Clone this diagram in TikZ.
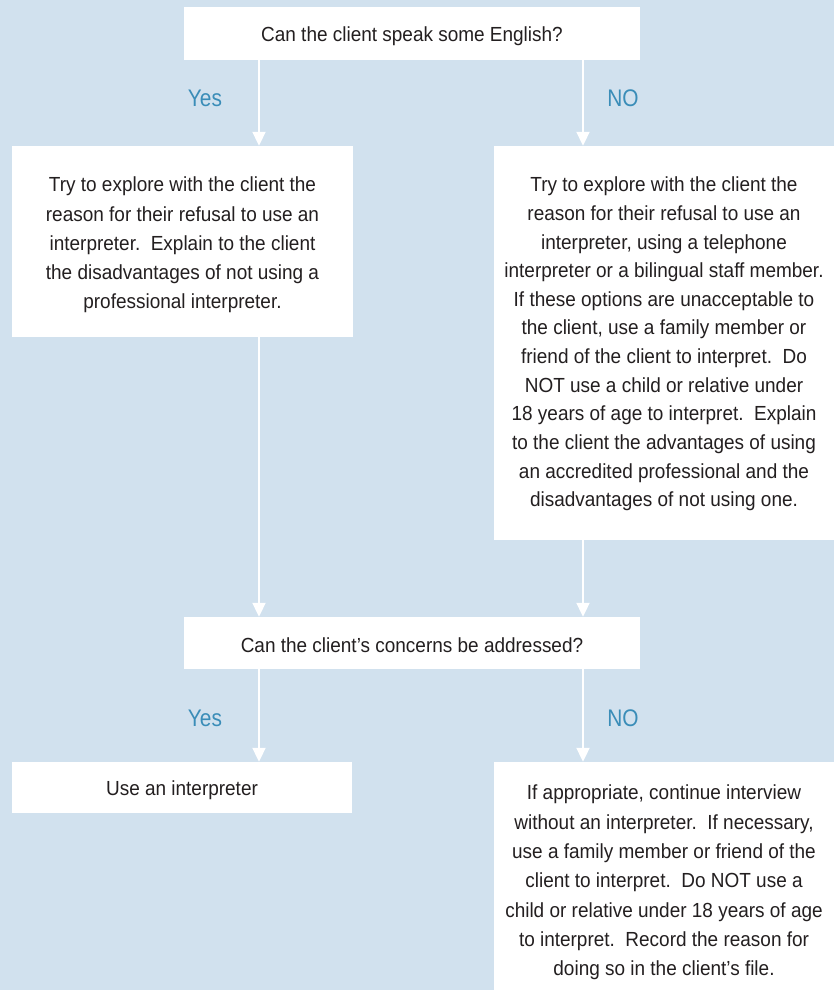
\documentclass[tikz,border=0pt]{standalone}
\usepackage{fontspec}
\setmainfont[FakeStretch=0.93]{Liberation Sans}
\newfontfamily\lblfont[FakeStretch=0.87]{Liberation Sans}
\usetikzlibrary{arrows.meta}
\definecolor{bgblue}{HTML}{D1E1EE}
\definecolor{lblblue}{HTML}{3A8DB8}
\definecolor{txt}{HTML}{231F20}
\begin{document}
\begin{tikzpicture}[x=1pt,y=-1pt,
  box/.style={fill=white, draw=none, inner sep=0pt},
  txtn/.style={inner sep=0pt, align=center, text=txt},
  lbl/.style={inner sep=0pt, anchor=base, text=lblblue, font=\lblfont\fontsize{24}{28}\selectfont},
  arr/.style={draw=white, line width=2pt, -{Triangle[width=13pt,length=14pt]}}]
\fill[bgblue] (0,0) rectangle (834,990);
\useasboundingbox (0,0) rectangle (834,990);
\coordinate (xl) at (259,0);
\coordinate (xr) at (583,0);
% boxes
\node[box, minimum width=456pt, minimum height=53pt] (top) at (412,33.5) {};
\node[box, minimum width=341pt, minimum height=191pt] (lb) at (182.5,241.5) {};
\node[box, minimum width=340pt, minimum height=394pt] (rb) at (664,343) {};
\node[box, minimum width=456pt, minimum height=52pt] (mid) at (412,643) {};
\node[box, minimum width=340pt, minimum height=51pt] (use) at (182,787.5) {};
\node[box, minimum width=340pt, minimum height=228pt] (last) at (664,876) {};
% texts
\node[txtn, anchor=base, font=\fontsize{20.4}{29}\selectfont] (topt) at (412,41.5)
  {Can the client speak some English?};
\node[txtn, font=\fontsize{20.4}{29.2}\selectfont] (lbt) at (182.5,245)
  {Try to explore with the client the\\reason for their refusal to use an\\interpreter.\ \ Explain to the client\\the disadvantages of not using a\\professional interpreter.};
\node[txtn, font=\fontsize{20.4}{28.65}\selectfont] (rbt) at (664,344)
  {Try to explore with the client the\\reason for their refusal to use an\\interpreter, using a telephone\\interpreter or a bilingual staff member.\\If these options are unacceptable to\\the client, use a family member or\\friend of the client to interpret.\ \ Do\\NOT use a child or relative under\\18 years of age to interpret.\ \ Explain\\to the client the advantages of using\\an accredited professional and the\\disadvantages of not using one.};
\node[txtn, anchor=base, font=\fontsize{20.4}{29}\selectfont] (midt) at (412,652)
  {Can the client’s concerns be addressed?};
\node[txtn, anchor=base, font=\fontsize{20.4}{29}\selectfont] (uset) at (182,795)
  {Use an interpreter};
\node[txtn, font=\fontsize{20.4}{29.3}\selectfont] (lastt) at (664,882.5)
  {If appropriate, continue interview\\without an interpreter.\ \ If necessary,\\use a family member or friend of the\\client to interpret.\ \ Do NOT use a\\child or relative under 18 years of age\\to interpret.\ \ Record the reason for\\doing so in the client’s file.};
% labels
\node[lbl] (y1) at (205,106) {Yes};
\node[lbl] (n1) at (623,106) {NO};
\node[lbl] (y2) at (205,726) {Yes};
\node[lbl] (n2) at (623,726) {NO};
% arrows
\draw[arr] (top.south -| xl) -- (lb.north -| xl);
\draw[arr] (top.south -| xr) -- (rb.north -| xr);
\draw[arr] (lb.south -| xl) -- (mid.north -| xl);
\draw[arr] (rb.south -| xr) -- (mid.north -| xr);
\draw[arr] (mid.south -| xl) -- (use.north -| xl);
\draw[arr] (mid.south -| xr) -- (last.north -| xr);
\end{tikzpicture}
\end{document}
